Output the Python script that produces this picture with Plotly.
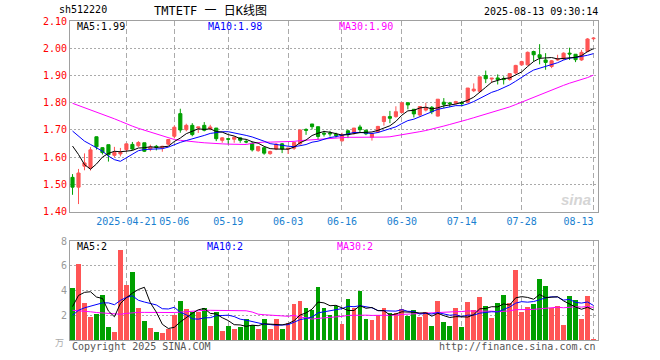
import math
import plotly.graph_objects as go

# ---------------- data ----------------
opens = [1.526,1.490,1.567,1.560,1.675,1.635,1.646,1.607,1.612,1.628,
         1.647,1.642,1.653,1.630,1.640,1.635,1.648,1.677,1.760,1.701,
         1.717,1.707,1.717,1.704,1.707,1.662,1.668,1.666,1.671,1.658,
         1.651,1.624,1.635,1.613,1.630,1.649,1.630,1.633,1.649,1.702,
         1.722,1.712,1.688,1.688,1.684,1.660,1.697,1.689,1.711,1.699,
         1.673,1.693,1.731,1.749,1.749,1.764,1.800,1.776,1.755,1.773,
         1.783,1.751,1.802,1.799,1.798,1.800,1.802,1.844,1.842,1.900,
         1.887,1.891,1.888,1.885,1.909,1.939,1.939,1.988,1.976,1.957,
         1.933,1.957,1.961,1.982,1.978,1.957,1.988,2.035]
highs = [1.538,1.557,1.614,1.637,1.676,1.637,1.646,1.638,1.634,1.649,
         1.656,1.659,1.653,1.646,1.645,1.642,1.667,1.716,1.778,1.723,
         1.725,1.711,1.729,1.719,1.707,1.674,1.668,1.677,1.673,1.665,
         1.657,1.641,1.635,1.624,1.652,1.652,1.633,1.654,1.702,1.706,
         1.722,1.712,1.697,1.697,1.690,1.690,1.701,1.707,1.719,1.701,
         1.689,1.715,1.752,1.770,1.787,1.800,1.800,1.776,1.786,1.800,
         1.788,1.813,1.817,1.803,1.807,1.807,1.854,1.871,1.895,1.918,
         1.890,1.904,1.897,1.907,1.939,1.954,1.988,1.991,2.015,1.982,
         1.957,1.976,1.985,2.002,1.978,1.994,2.037,2.039]
lows = [1.462,1.428,1.552,1.551,1.628,1.610,1.584,1.600,1.603,1.620,
        1.626,1.637,1.619,1.622,1.625,1.620,1.643,1.669,1.690,1.695,
        1.677,1.689,1.695,1.699,1.659,1.653,1.647,1.653,1.653,1.651,
        1.621,1.620,1.609,1.609,1.626,1.615,1.612,1.627,1.645,1.682,
        1.702,1.664,1.676,1.676,1.672,1.658,1.670,1.683,1.689,1.681,
        1.661,1.690,1.716,1.725,1.745,1.762,1.776,1.746,1.749,1.768,
        1.758,1.749,1.780,1.784,1.794,1.786,1.798,1.839,1.838,1.872,
        1.872,1.867,1.867,1.881,1.905,1.936,1.937,1.951,1.941,1.921,
        1.927,1.954,1.957,1.957,1.949,1.954,1.985,2.030]
closes = [1.490,1.542,1.579,1.627,1.638,1.617,1.609,1.618,1.618,1.649,
          1.630,1.654,1.622,1.637,1.637,1.640,1.665,1.710,1.700,1.717,
          1.683,1.711,1.699,1.711,1.668,1.671,1.666,1.673,1.662,1.656,
          1.627,1.639,1.615,1.621,1.648,1.630,1.633,1.654,1.700,1.699,
          1.712,1.676,1.685,1.686,1.680,1.680,1.683,1.707,1.701,1.686,
          1.686,1.713,1.749,1.743,1.767,1.800,1.792,1.759,1.786,1.782,
          1.767,1.813,1.794,1.797,1.804,1.797,1.854,1.850,1.895,1.888,
          1.890,1.885,1.885,1.907,1.937,1.951,1.985,1.976,1.966,1.948,
          1.954,1.960,1.982,1.979,1.958,1.985,2.034,2.037]
volumes = [4.22,6.16,2.98,1.88,2.12,3.63,1.08,0.67,7.26,4.43,
           5.50,2.55,1.56,0.99,0.65,0.59,0.86,2.04,3.15,2.50,
           2.23,2.28,2.58,1.16,2.26,0.73,1.13,0.91,1.05,1.69,
           1.21,0.91,1.69,0.91,1.69,0.91,1.40,2.90,3.17,2.58,
           2.42,4.25,2.58,2.02,2.74,1.29,3.31,2.55,3.98,1.69,
           1.61,2.02,2.58,2.15,2.15,2.50,1.96,2.42,1.88,2.23,
           1.13,3.15,1.45,1.13,2.58,1.05,3.06,2.42,3.47,2.74,
           1.77,2.98,3.63,3.00,5.65,2.26,2.66,2.90,4.92,4.35,
           2.58,2.74,1.21,3.55,3.23,1.69,3.55,0.08]

# moving-average values before a full window exists
price_ma5_head = [1.641, 1.610, 1.573, 1.556]
price_ma10_head = [1.696, 1.678, 1.659, 1.647, 1.635, 1.622, 1.604, 1.591, 1.585]
price_ma30_head = [1.798,1.790,1.783,1.774,1.767,1.758,1.750,1.741,1.732,1.722,
                   1.714,1.706,1.699,1.691,1.684,1.677,1.670,1.665,1.662,1.659,
                   1.657,1.655,1.653,1.651,1.650,1.649,1.648,1.647,1.646]
vol_ma5_head = [2.70, 3.60, 3.85, 3.90]
vol_ma10_head = [2.00, 2.40, 2.60, 2.75, 2.85, 3.00, 3.00, 2.85, 3.20]
vol_ma30_head = [2.40,2.38,2.33,2.28,2.22,2.17,2.12,2.08,2.08,2.15,
                 2.22,2.23,2.23,2.22,2.22,2.22,2.22,2.22,2.25,2.30,
                 2.35,2.38,2.40,2.40,2.40,2.40,2.40,2.38,2.37]

tick_idx = [9, 17, 26, 36, 45, 55, 65, 75, 87]
tick_labels = ["2025-04-21", "05-06", "05-19", "06-03", "06-16",
               "06-30", "07-14", "07-28", "08-13"]
price_ticks = [1.40, 1.50, 1.60, 1.70, 1.80, 1.90, 2.00, 2.10]
vol_ticks = [2, 4, 6, 8]

# ---------------- styling ----------------
RED = "#FF5555"
GREEN = "#00A000"
MONO = "DejaVu Sans Mono, Noto Sans CJK SC, monospace"
CJK = "DejaVu Sans Mono, Noto Sans CJK SC, sans-serif"
NBSP = "\u00a0"

def moving_avg(vals, w, head):
    out = []
    for i in range(len(vals)):
        if i < w - 1:
            out.append(head[i])
        else:
            out.append(sum(vals[i - w + 1:i + 1]) / w)
    return out

def trunc(v, d):
    f = 10 ** d
    return math.floor(v * f + 1e-9) / f

n = len(closes)
x = list(range(n))

pma5 = moving_avg(closes, 5, price_ma5_head)
pma10 = moving_avg(closes, 10, price_ma10_head)
pma30 = moving_avg(closes, 30, price_ma30_head)
vma5 = moving_avg(volumes, 5, vol_ma5_head)
vma10 = moving_avg(volumes, 10, vol_ma10_head)
vma30 = moving_avg(volumes, 30, vol_ma30_head)

fig = go.Figure()
fig.add_trace(go.Candlestick(
    x=x, open=opens, high=highs, low=lows, close=closes,
    increasing=dict(line=dict(color=RED, width=1), fillcolor=RED),
    decreasing=dict(line=dict(color=GREEN, width=1), fillcolor=GREEN),
    whiskerwidth=0, xaxis="x", yaxis="y", hoverinfo="skip", showlegend=False))
for vals, col in [(pma30, "#FF00FF"), (pma10, "#0000FF"), (pma5, "#000000")]:
    fig.add_trace(go.Scatter(x=x, y=vals, mode="lines", line=dict(color=col, width=1),
                             xaxis="x", yaxis="y", hoverinfo="skip", showlegend=False))

bar_colors = [RED if c >= o else GREEN for o, c in zip(opens, closes)]
fig.add_trace(go.Bar(x=x, y=volumes, marker=dict(color=bar_colors, line=dict(width=0)),
                     width=0.8, xaxis="x2", yaxis="y2", hoverinfo="skip", showlegend=False))
for vals, col in [(vma30, "#FF00FF"), (vma10, "#0000FF"), (vma5, "#000000")]:
    fig.add_trace(go.Scatter(x=x, y=vals, mode="lines", line=dict(color=col, width=1),
                             xaxis="x2", yaxis="y2", hoverinfo="skip", showlegend=False))

W, H = 660, 360
L, R, T, B = 70, 598, 21, 340
def px(v):
    return (v - L) / (R - L)
def py(v):
    return (B - v) / (B - T)

price_top, price_bot = 21, 211.7
vol_top, vol_bot = 241, 340

# the last date label is kept inside the frame (ends at its grid line)
shown_labels = tick_labels[:-1] + [tick_labels[-1] + NBSP * len(tick_labels[-1])]

xcommon = dict(range=[-0.42, 87.75], tickmode="array", tickvals=tick_idx,
               showgrid=True, gridcolor="#AAAAAA", griddash="5px,3px", gridwidth=1,
               showline=True, mirror=True, linecolor="#A0A0A0", linewidth=1,
               zeroline=False, ticks="", fixedrange=True, automargin=False)
fig.update_layout(
    width=W, height=H, autosize=False,
    margin=dict(l=L, r=W - R, t=T, b=H - B, pad=0),
    paper_bgcolor="white", plot_bgcolor="white",
    showlegend=False, bargap=0,
    boxgap=0.25,
    xaxis=dict(domain=[0, 1], anchor="y", ticktext=shown_labels,
               tickfont=dict(family=MONO, size=10, color="#1A7FD0"),
               rangeslider=dict(visible=False), **xcommon),
    xaxis2=dict(domain=[0, 1], anchor="y2", matches="x", showticklabels=False, **xcommon),
    yaxis=dict(domain=[py(price_bot), py(price_top)], range=[1.40, 2.10],
               tickmode="array", tickvals=price_ticks,
               ticktext=["%.2f" % v for v in price_ticks],
               tickfont=dict(family=MONO, size=10, color="#FF0000"),
               showgrid=True, gridcolor="#AAAAAA", griddash="2px,2px", gridwidth=1,
               showline=True, mirror=True, linecolor="#A0A0A0", linewidth=1,
               zeroline=False, ticks="", fixedrange=True, automargin=False),
    yaxis2=dict(domain=[py(vol_bot), py(vol_top)], range=[0, 8],
                tickmode="array", tickvals=vol_ticks,
                ticktext=[str(v) for v in vol_ticks],
                tickfont=dict(family=MONO, size=10, color="#999999"),
                showgrid=True, gridcolor="#AAAAAA", griddash="2px,2px", gridwidth=1,
                showline=True, mirror=True, linecolor="#A0A0A0", linewidth=1,
                zeroline=False, ticks="", fixedrange=True, automargin=False),
)

def label(text, xp, yp, color="#000000", size=10, anchor="left", family=MONO):
    fig.add_annotation(text=text, x=px(xp), y=py(yp), xref="paper", yref="paper",
                       xanchor=anchor, yanchor="middle", showarrow=False,
                       font=dict(family=family, size=size, color=color))

label("sh512220", 57, 10)
label("TMTETF 一 日K线图", 152, 11, size=12, family=CJK)
label("2025-08-13 09:30:14", 600, 11, anchor="right")
label("MA5:%.2f" % trunc(pma5[-1], 2), 75, 27)
label("MA10:%.2f" % trunc(pma10[-1], 2), 206, 27, color="#0000FF")
label("MA30:%.2f" % trunc(pma30[-1], 2), 337, 27, color="#FF00FF")
label("MA5:%d" % int(vma5[-1]), 75, 247)
label("MA10:%d" % int(vma10[-1]), 205, 247, color="#0000FF")
label("MA30:%d" % int(vma30[-1]), 335, 247, color="#FF00FF")
label("Copyright 2025 SINA.COM", 70, 346, color="#555555")
label("http://finance.sina.com.cn", 598, 346, color="#555555", anchor="right")
label("万", 66, 343, color="#AAAAAA", size=9, anchor="right", family=CJK)
label("<b><i>sina</i></b>", 593, 199, color="#D5D5D5", size=15, anchor="right",
      family="Liberation Sans, sans-serif")

fig.write_html("out.html",
               config={"displayModeBar": False},
               post_script="document.body.style.margin='0';document.body.style.padding='0';")
